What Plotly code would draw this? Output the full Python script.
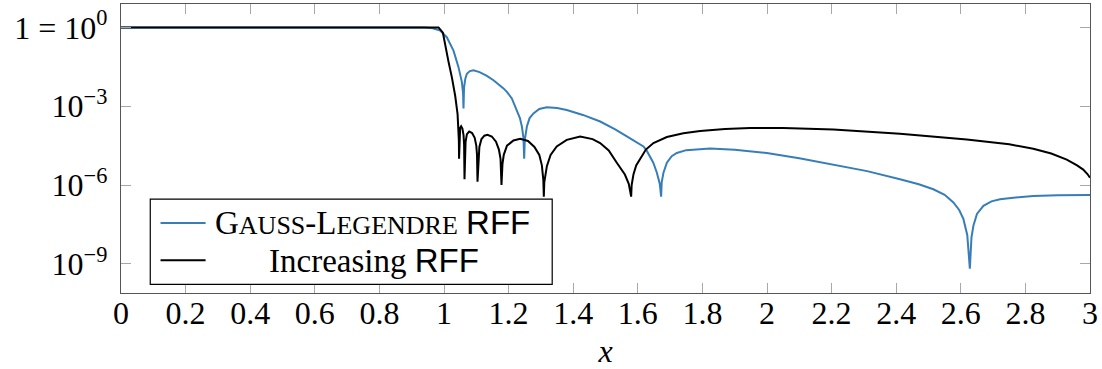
import plotly.graph_objects as go
import numpy as np

# ---- data (x, log10 of the y value) ----
gl_x = [0.0, 0.94, 0.965, 0.9883, 1.0090, 1.0294, 1.0449, 1.0554, 1.0590, 1.0604,
        1.0620, 1.0660, 1.0709, 1.0800, 1.0913, 1.1100, 1.1328, 1.1532, 1.1842, 1.1947,
        1.2100, 1.2256, 1.2350, 1.2411, 1.2460, 1.2482,
        1.2500, 1.2566, 1.2650, 1.2770, 1.2950, 1.3185, 1.3500, 1.3800, 1.4300, 1.4835,
        1.5300, 1.5660, 1.5950, 1.6175, 1.6280, 1.6480, 1.6590, 1.6680, 1.6722,
        1.6740, 1.6794, 1.6900, 1.7050, 1.7208, 1.7500, 1.7930, 1.8240, 1.9000, 1.9994,
        2.1000, 2.2055, 2.3100, 2.4118, 2.4700, 2.5150, 2.5500, 2.5770, 2.5950, 2.6080,
        2.6200, 2.6280, 2.6330, 2.6390, 2.6500, 2.6700, 2.6950, 2.7215, 2.7700, 2.8245,
        2.9000, 3.0000]
gl_log10 = [0.0, 0.0, -0.03, -0.12, -0.38, -0.88, -1.51, -2.08, -2.5, -3.08,
            -2.3, -1.95, -1.76, -1.66, -1.63, -1.7, -1.84, -2.01, -2.32, -2.45,
            -2.7, -3.14, -3.45, -3.77, -4.2, -5.0,
            -4.3, -3.77, -3.45, -3.27, -3.1, -3.04, -3.07, -3.14, -3.33, -3.58,
            -3.88, -4.15, -4.35, -4.53, -4.7, -5.15, -5.53, -5.95, -6.44,
            -5.9, -5.53, -5.15, -4.9, -4.78, -4.67, -4.62, -4.61, -4.66, -4.78,
            -4.98, -5.22, -5.47, -5.78, -5.97, -6.16, -6.37, -6.66, -6.95, -7.29,
            -7.9, -9.18, -8.0, -7.55, -7.1, -6.79, -6.62, -6.54, -6.47, -6.42,
            -6.39, -6.38]

inc_x = [0.0, 0.95, 0.975, 0.983, 0.9966, 1.0037, 1.0139, 1.0244, 1.0346, 1.0420,
         1.0449, 1.0460, 1.0466,
         1.0472, 1.0480, 1.0500, 1.0530, 1.0570, 1.0605, 1.0622, 1.0635,
         1.0648, 1.0668, 1.0710, 1.0780, 1.0870, 1.0950, 1.1000, 1.1022, 1.1037,
         1.1060, 1.1095, 1.1160, 1.1250, 1.1346, 1.1480, 1.1610, 1.1700, 1.1750, 1.1780,
         1.1810, 1.1850, 1.1950, 1.2150, 1.2358, 1.2600, 1.2800, 1.2950, 1.3030, 1.3075, 1.3090,
         1.3105, 1.3185, 1.3300, 1.3490, 1.3800, 1.4216, 1.4600, 1.4834, 1.5100, 1.5350,
         1.5600, 1.5720, 1.5794,
         1.5810, 1.5865, 1.5950, 1.6072, 1.6250, 1.6484, 1.6900, 1.7410, 1.7930, 1.8700,
         1.9477, 2.0500, 2.2055, 2.4118, 2.6184, 2.7500, 2.8245, 2.8800, 2.9280, 2.9600,
         2.9790, 2.9920, 3.0000]
inc_log10 = [0.0, 0.0, 0.01, 0.0, -0.2, -0.6, -1.3, -1.9, -2.6, -3.3,
             -3.8, -4.3, -5.0,
             -4.4, -4.05, -3.82, -3.76, -3.85, -4.1, -4.45, -5.78,
             -4.8, -4.35, -4.06, -3.96, -4.02, -4.2, -4.5, -4.85, -5.87,
             -5.0, -4.55, -4.25, -4.12, -4.09, -4.15, -4.35, -4.65, -5.0, -6.0,
             -5.2, -4.85, -4.5, -4.3, -4.24, -4.32, -4.55, -4.85, -5.25, -5.8, -6.44,
             -5.9, -5.28, -4.85, -4.53, -4.28, -4.15, -4.25, -4.40, -4.68, -5.15,
             -5.6, -5.95, -6.44,
             -6.0, -5.6, -5.25, -5.0, -4.65, -4.40, -4.17, -4.03, -3.94, -3.87,
             -3.83, -3.83, -3.88, -4.05, -4.27, -4.45, -4.62, -4.8, -5.03, -5.25,
             -5.41, -5.58, -5.72]

x_ticks = [0, 0.2, 0.4, 0.6, 0.8, 1, 1.2, 1.4, 1.6, 1.8, 2, 2.2, 2.4, 2.6, 2.8, 3]
x_tick_labels = ["0", "0.2", "0.4", "0.6", "0.8", "1", "1.2", "1.4", "1.6", "1.8",
                 "2", "2.2", "2.4", "2.6", "2.8", "3"]
y_ticks = [1.0, 1e-3, 1e-6, 1e-9]
y_tick_labels = ["1 = 10<sup>0</sup>", "10<sup>\u22123</sup>", "10<sup>\u22126</sup>",
                 "10<sup>\u22129</sup>"]

SERIF = "Liberation Serif, DejaVu Serif, serif"
SC = "font-size:26px"
gl_name = (f"G<span style='{SC}'>AUSS</span>-L<span style='{SC}'>EGENDRE</span> "
           f"<span style='font-family:Liberation Sans'>RFF</span>")
inc_name = "Increasing <span style='font-family:Liberation Sans'>RFF</span>"
gl_color = "#377eb8"
inc_color = "#000000"

fig = go.Figure()
fig.add_trace(go.Scatter(x=gl_x, y=10.0 ** np.array(gl_log10), mode="lines",
                         line=dict(color=gl_color, width=2), name=gl_name, showlegend=False))
fig.add_trace(go.Scatter(x=inc_x, y=10.0 ** np.array(inc_log10), mode="lines",
                         line=dict(color=inc_color, width=2), name=inc_name, showlegend=False))

axis_common = dict(showgrid=False, zeroline=False, showline=True, linecolor="#555555",
                   linewidth=1.4, mirror="ticks", ticks="inside", ticklen=10,
                   tickwidth=1.2, tickcolor="#a8a8a8",
                   tickfont=dict(family=SERIF, size=32, color="#000000"))

# legend drawn as a framed box in paper coordinates
L_X0, L_X1, L_Y0, L_Y1 = 0.0302, 0.445, 0.0298, 0.3247
ROW1, ROW2 = 0.2424, 0.1131
SAMPLE_X0, SAMPLE_X1 = 0.0408, 0.0873
shapes = [
    dict(type="rect", xref="paper", yref="paper", x0=L_X0, x1=L_X1, y0=L_Y0, y1=L_Y1,
         line=dict(color="#000000", width=1.2), fillcolor="white", layer="above"),
    dict(type="line", xref="paper", yref="paper", x0=SAMPLE_X0, x1=SAMPLE_X1, y0=ROW1, y1=ROW1,
         line=dict(color=gl_color, width=2), layer="above"),
    dict(type="line", xref="paper", yref="paper", x0=SAMPLE_X0, x1=SAMPLE_X1, y0=ROW2, y1=ROW2,
         line=dict(color=inc_color, width=2), layer="above"),
]
annotations = [
    dict(text=gl_name, xref="paper", yref="paper", x=0.0952, y=ROW1, xanchor="left",
         yanchor="middle", showarrow=False, font=dict(family=SERIF, size=33, color="#000000")),
    dict(text=inc_name, xref="paper", yref="paper", x=0.2614, y=ROW2, xanchor="center",
         yanchor="middle", showarrow=False, font=dict(family=SERIF, size=33, color="#000000")),
]

fig.update_layout(
    width=1102, height=369,
    margin=dict(l=121, r=12, t=3, b=74),
    paper_bgcolor="white", plot_bgcolor="white",
    font=dict(family=SERIF, color="#000000"),
    xaxis=dict(range=[0, 3], tickvals=x_ticks, ticktext=x_tick_labels,
               title=dict(text="<i>x</i>", font=dict(family=SERIF, size=32, color="#000000"),
                          standoff=13),
               ticklabelstandoff=-9, **axis_common),
    yaxis=dict(type="log", range=[-10.11, 0.894], tickvals=y_ticks, ticktext=y_tick_labels,
               ticklabelstandoff=6, **axis_common),
    shapes=shapes,
    annotations=annotations,
    showlegend=False,
)

fig.write_html("out.html")
